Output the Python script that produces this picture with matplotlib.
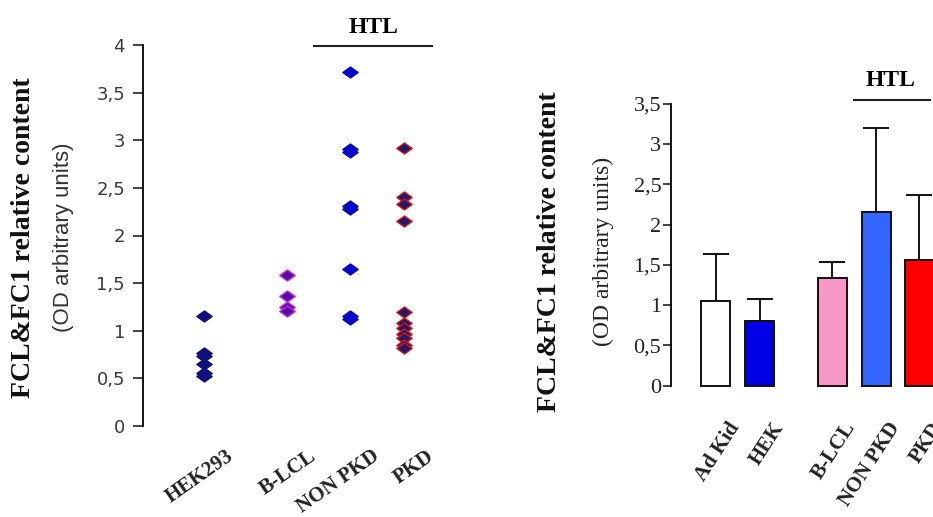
import matplotlib
matplotlib.use("Agg")
import matplotlib.pyplot as plt
import matplotlib.transforms as mtransforms
from matplotlib.path import Path

# individual measurements (left panel)
groups = ["HEK293", "B-LCL", "NON PKD", "PKD"]
hek293 = [1.16, 0.77, 0.74, 0.65, 0.56, 0.53]
b_lcl = [1.59, 1.36, 1.25, 1.21]
non_pkd = [3.72, 2.91, 2.88, 2.31, 2.28, 1.65, 1.15, 1.12]
pkd = [2.92, 2.40, 2.33, 2.15, 1.20, 1.08, 1.03, 0.97, 0.92, 0.85, 0.82]

# means and SD (right panel)
bar_names = ["Ad Kid", "HEK", "B-LCL", "NON PKD", "PKD"]
bar_means = [1.05, 0.80, 1.34, 2.15, 1.56]
bar_sd = [0.59, 0.28, 0.19, 1.05, 0.81]

# layout
pts_x = [0.73, 1.73, 2.49, 3.14]
bar_x = [1.02, 2.02, 3.66, 4.66, 5.64]

serif = "Liberation Serif"
sans = "Liberation Sans"

fig = plt.figure(figsize=(9.33, 5.17), dpi=100)
W, H = 933, 517


def box(x0, y0, x1, y1):
    # pixel box (top-left origin) -> figure fraction rect
    return [x0 / W, 1 - y1 / H, (x1 - x0) / W, (y1 - y0) / H]


# flattened diamond marker
diamond = Path([(-1, 0), (0, 0.72), (1, 0), (0, -0.72), (-1, 0)],
               [Path.MOVETO, Path.LINETO, Path.LINETO, Path.LINETO, Path.CLOSEPOLY])

ax1 = fig.add_axes(box(143, 45, 442, 426))
styles = [("#10107c", "#10107c", hek293),
          ("#500ca8", "#d020e0", b_lcl),
          ("#0808c8", "#0808c8", non_pkd),
          ("#1c1c6c", "#e01010", pkd)]
for xp, (fc, ec, vals) in zip(pts_x, styles):
    ax1.plot([xp] * len(vals), vals, linestyle="none", marker=diamond,
             ms=11, mfc=fc, mec=ec, mew=1.0, clip_on=False)

ax1.set_xlim(0, 3.6)
ax1.set_ylim(0, 4)
ax1.set_yticks([0, 0.5, 1, 1.5, 2, 2.5, 3, 3.5, 4])
ax1.set_yticklabels(["0", "0,5", "1", "1,5", "2", "2,5", "3", "3,5", "4"],
                    fontfamily="DejaVu Sans", fontsize=13, color="#3a3a3a")
ax1.tick_params(axis="y", length=7, width=1.2, pad=6, color="#222222")
ax1.set_xticks([])
for s in ["top", "right", "bottom"]:
    ax1.spines[s].set_visible(False)
ax1.spines["left"].set_linewidth(1.3)

off = mtransforms.ScaledTranslation(0.22, -0.20, fig.dpi_scale_trans)
for xp, name in zip(pts_x, groups):
    ax1.text(xp, 0, name, transform=ax1.get_xaxis_transform() + off,
             rotation=35, rotation_mode="anchor", ha="right", va="top",
             fontfamily=serif, fontweight="bold", fontsize=15, color="#222222")

# HTL bracket over the HTL groups
tr1 = ax1.get_xaxis_transform()
ax1.plot([2.06, 3.48], [0.997, 0.997], color="#222222", lw=1.5,
         transform=tr1, clip_on=False)
ax1.text(2.77, 1.045, "HTL", transform=tr1, ha="center", va="center",
         fontfamily=serif, fontweight="bold", fontsize=17)

fig.text(24 / W, 1 - 238 / H, "FCL&FC1 relative content", rotation=90,
         ha="center", va="center", fontfamily=serif, fontweight="bold",
         fontsize=20, color="#111111")
fig.text(63 / W, 1 - 237 / H, "(OD arbitrary units)", rotation=90,
         ha="center", va="center", fontfamily=sans, fontsize=16,
         color="#333333")

# bar chart
ax2 = fig.add_axes(box(671, 103.7, 933, 385.7))
bar_colors = ["white", "#0000e6", "#f799c4", "#3366ff", "#ff0000"]
ax2.bar(bar_x, bar_means, width=0.66, color=bar_colors, edgecolor="#111111",
        linewidth=1.4, clip_on=False, zorder=2)
ax2.errorbar(bar_x, bar_means, yerr=[[0] * len(bar_sd), bar_sd],
             fmt="none", ecolor="#111111", elinewidth=1.4, capsize=9.5,
             capthick=1.4, zorder=1, clip_on=False)
ax2.set_xlim(0, 262 / 44)
ax2.set_ylim(0, 3.5)
ax2.set_yticks([0, 0.5, 1, 1.5, 2, 2.5, 3, 3.5])
ax2.set_yticklabels(["0", "0,5", "1", "1,5", "2", "2,5", "3", "3,5"],
                    fontfamily=serif, fontsize=16, color="#222222")
ax2.tick_params(axis="y", length=6, width=1.2, pad=1, color="#222222")
ax2.set_xticks([])
for s in ["top", "right", "bottom"]:
    ax2.spines[s].set_visible(False)
ax2.spines["left"].set_linewidth(1.3)

off2 = mtransforms.ScaledTranslation(0.11, -0.33, fig.dpi_scale_trans)
for xb, name in zip(bar_x, bar_names):
    ax2.text(xb, 0, name, transform=ax2.get_xaxis_transform() + off2,
             rotation=57, rotation_mode="anchor", ha="right", va="top",
             fontfamily=serif, fontweight="bold", fontsize=15, color="#222222")

tr2 = ax2.get_xaxis_transform()
ax2.plot([4.16, 5.89], [1.014, 1.014], color="#222222", lw=1.5,
         transform=tr2, clip_on=False)
ax2.text(5.0, 1.084, "HTL", transform=tr2, ha="center", va="center",
         fontfamily=serif, fontweight="bold", fontsize=17)

fig.text(550 / W, 1 - 251.5 / H, "FCL&FC1 relative content", rotation=90,
         ha="center", va="center", fontfamily=serif, fontweight="bold",
         fontsize=20, color="#111111")
fig.text(603 / W, 1 - 251.5 / H, "(OD arbitrary units)", rotation=90,
         ha="center", va="center", fontfamily=serif, fontsize=17,
         color="#222222")

fig.savefig("out.png", dpi=100)
